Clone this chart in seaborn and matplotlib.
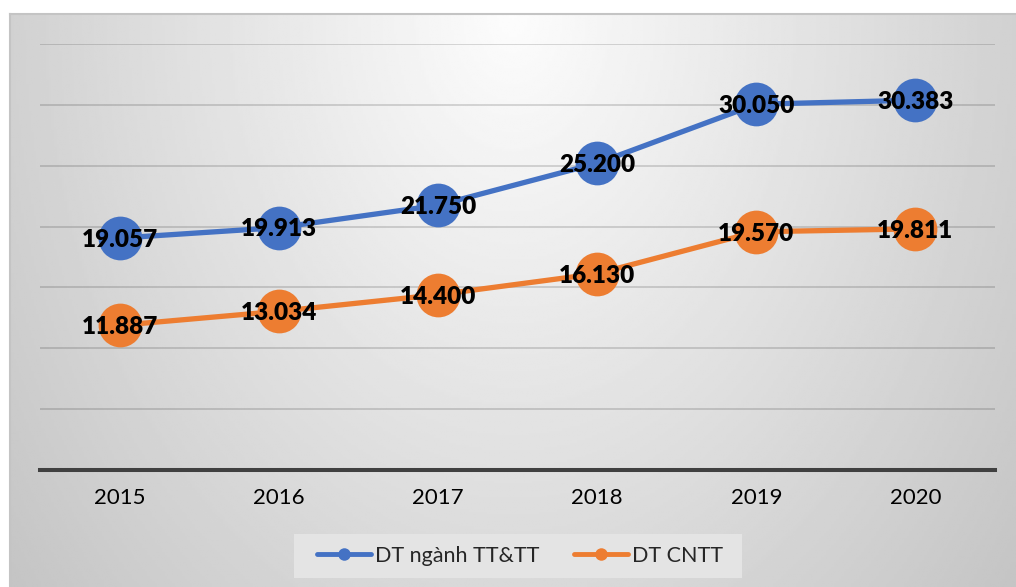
import numpy as np
import pandas as pd
import matplotlib
matplotlib.use("Agg")
import matplotlib.pyplot as plt
from matplotlib.lines import Line2D
from matplotlib.patches import Rectangle
import seaborn as sns

# data (values in millions, "." used as thousands separator on labels)
years = ["2015", "2016", "2017", "2018", "2019", "2020"]
dt_tttt = [19057, 19913, 21750, 25200, 30050, 30383]
dt_cntt = [11887, 13034, 14400, 16130, 19570, 19811]
series_names = ["DT ngành TT&TT", "DT CNTT"]
colors = ["#4472C4", "#ED7D31"]

df = pd.DataFrame({
    "year": years * 2,
    "value": dt_tttt + dt_cntt,
    "series": [series_names[0]] * len(years) + [series_names[1]] * len(years),
})

sns.set_theme(style="white")
plt.rcParams["font.family"] = ["Lato", "DejaVu Sans"]

W, H = 1016, 587
fig = plt.figure(figsize=(W / 100, H / 100), dpi=100)

# chart area background: light centre at top, darker towards the edges
bg = fig.add_axes([10 / W, 0, 1 - 10 / W, (H - 14) / H])
gx = np.linspace(-1, 1, 400)
gy = np.linspace(0, 1, 240)
X, Y = np.meshgrid(gx, gy)
shade = 0.99 - np.sqrt((0.17 * X) ** 2 + (0.14 * Y) ** 2)
bg.imshow(shade, cmap="gray", vmin=0, vmax=1, aspect="auto", extent=(0, 1, 1, 0))
bg.set_xlim(0, 1)
bg.set_ylim(1, 0)
bg.set_xticks([])
bg.set_yticks([])
for side in ["right", "bottom"]:
    bg.spines[side].set_visible(False)
for side in ["top", "left"]:
    bg.spines[side].set_color("#c4c4c4")
    bg.spines[side].set_linewidth(1.5)

ax = fig.add_axes([40 / W, 117 / H, 955 / W, 426 / H])
ax.patch.set_alpha(0)

sns.lineplot(data=df, x="year", y="value", hue="series", palette=colors,
             marker="o", markersize=31.5, markeredgewidth=0, linewidth=3.8,
             legend=False, ax=ax)

def fmt(v):
    return f"{v:,}".replace(",", ".")

for vals in [dt_tttt, dt_cntt]:
    for i, v in enumerate(vals):
        ax.text(i, v - 150, fmt(v), ha="center", va="center", fontsize=17.5,
                fontweight="heavy", color="black", zorder=5)

ax.set_xlim(-0.5, len(years) - 0.5)
ax.set_ylim(0, 35000)
ax.set_yticks(range(0, 35001, 5000))
ax.set_yticklabels([])
ax.set_xticks(range(len(years)))
ax.set_xticklabels(years, fontsize=16, color="black")
ax.tick_params(axis="both", length=0)
ax.tick_params(axis="x", pad=13)
ax.set_xlabel("")
ax.set_ylabel("")
ax.yaxis.grid(True, color="black", alpha=0.17, linewidth=1.2)
ax.set_axisbelow(True)
for side in ["top", "left", "right"]:
    ax.spines[side].set_visible(False)
ax.spines["bottom"].set_color("#404040")
ax.spines["bottom"].set_linewidth(2.9)

# legend box + legend
fig.patches.append(Rectangle((294 / W, 9 / H), 448 / W, 44 / H,
                             transform=fig.transFigure, facecolor="#e4e4e4",
                             edgecolor="none", zorder=1))
handles = [Line2D([0], [0], color=c, lw=3.5, marker="o", markersize=9,
                  markeredgewidth=0, solid_capstyle="round") for c in colors]
fig.legend(handles, series_names, loc="center",
           bbox_to_anchor=(520 / W, (H - 556) / H), ncol=2, frameon=False,
           fontsize=15.5, handlelength=2.5, handletextpad=0.2,
           columnspacing=1.6)

fig.savefig("out.png", dpi=100)
